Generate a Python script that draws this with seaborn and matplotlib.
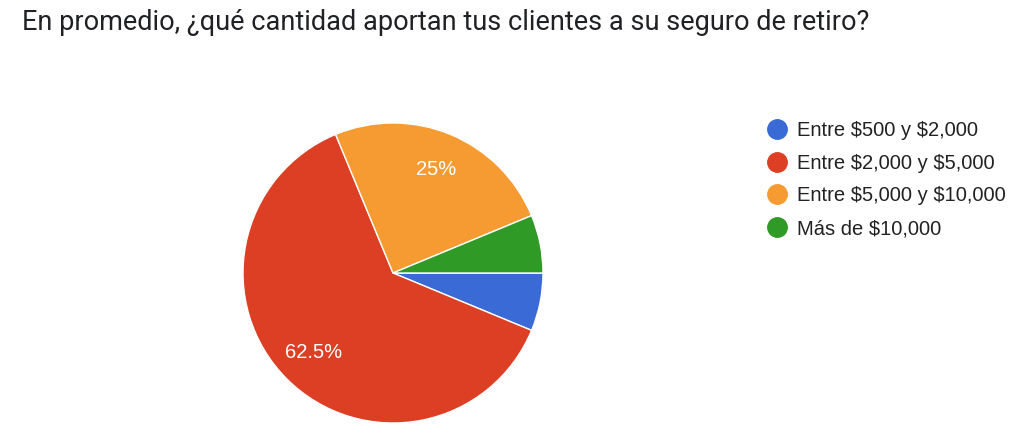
import matplotlib
matplotlib.use("Agg")
import matplotlib.pyplot as plt
from matplotlib.lines import Line2D
import seaborn as sns

# chart data
categories = ["Entre $500 y $2,000", "Entre $2,000 y $5,000",
              "Entre $5,000 y $10,000", "Más de $10,000"]
shares = [6.25, 62.5, 25.0, 6.25]
colors = ["#3a6ad5", "#dc3f24", "#f59b32", "#2f9a26"]
title = "En promedio, ¿qué cantidad aportan tus clientes a su seguro de retiro?"

sns.set_style("white")
plt.rcParams["font.family"] = ["Liberation Sans", "DejaVu Sans"]
plt.rcParams["text.parse_math"] = False  # keep the $ signs literal

W, H = 1023, 445
fig = plt.figure(figsize=(W / 100, H / 100), dpi=100)

# pie centered at about (393, 273) px, radius 150 px
cx, cy, r = 393, 273, 150
ax = fig.add_axes([(cx - r) / W, (H - cy - r) / H, 2 * r / W, 2 * r / H])


def fmt(p):
    # only the two big slices get a label
    if p < 10:
        return ""
    return f"{p:g}%"


wedges, texts, autotexts = ax.pie(
    shares, colors=colors, startangle=0, counterclock=False,
    autopct=fmt, pctdistance=0.75,
    wedgeprops=dict(edgecolor="white", linewidth=1),
    textprops=dict(color="white", fontsize=14.5),
)
ax.set_xlim(-1, 1)
ax.set_ylim(-1, 1)
ax.set_aspect("equal")

fig.text(22 / W, 1 - 23 / H, title, fontsize=19.5, family="Roboto",
         color="#202124", va="center", ha="left")

handles = [Line2D([], [], marker="o", linestyle="", markersize=14,
                  markerfacecolor=c, markeredgecolor=c) for c in colors]
fig.legend(handles, categories, loc="upper left",
           bbox_to_anchor=(767 / W, 1 - 121 / H), frameon=False,
           fontsize=14.5, handlelength=1.0, handletextpad=0.5,
           labelspacing=0.68, borderaxespad=0, borderpad=0,
           labelcolor="#222222")

fig.savefig("out.png", dpi=100)
